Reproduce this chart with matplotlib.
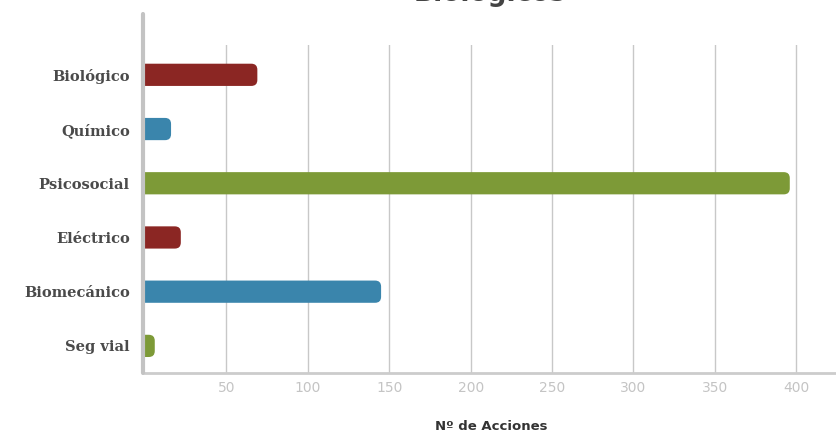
import matplotlib
matplotlib.use("Agg")
import matplotlib.pyplot as plt
from matplotlib.lines import Line2D
from matplotlib.patches import FancyBboxPatch

categories = ["Biológico", "Químico", "Psicosocial", "Eléctrico", "Biomecánico", "Seg vial"]
values = [69, 16, 396, 22, 145, 6]
bar_colors = ["#8B2623", "#3A85AC", "#7D9A37", "#8B2623", "#3A85AC", "#7D9A37"]
xticks = [50, 100, 150, 200, 250, 300, 350, 400]
title_text = "Biológicos"
xlabel_text = "Nº de Acciones"

fig = plt.figure(figsize=(8.37, 4.38), dpi=100)
ax = fig.add_axes([145/837, (438-373)/438, (837-145)/837, (373-45)/438])

xmax = 425
ymin, ymax = 5.5, -0.55
ax.set_xlim(0, xmax)
ax.set_ylim(ymin, ymax)

bar_h = 0.41
ypos = list(range(len(categories)))
ax_w_px = 837 - 145
ax_h_px = 373 - 45
xu = ax_w_px / xmax
yu = ax_h_px / abs(ymin - ymax)
r_px = 6
r_x = r_px / xu
aspect = (r_px / yu) / r_x
for y, v, c in zip(ypos, values, bar_colors):
    p = FancyBboxPatch((-3 * r_x, y - bar_h / 2), v + 3 * r_x, bar_h,
                       boxstyle=f"round,pad=0,rounding_size={r_x}",
                       mutation_aspect=aspect, facecolor=c, edgecolor="none",
                       zorder=3)
    ax.add_patch(p)

ax.set_yticks(ypos)
ax.set_yticklabels(categories, fontfamily="DejaVu Serif", fontweight="bold",
                   fontsize=10.5, color="#4a4a4a")
ax.set_xticks(xticks)
ax.set_xticklabels([str(t) for t in xticks], fontsize=10, color="#c4c4c4")
ax.tick_params(axis="y", length=0, pad=11)
ax.tick_params(axis="x", length=0, pad=6)

ax.grid(axis="x", color="#c8c8c8", linewidth=1.0, zorder=0)
for s in ["top", "right"]:
    ax.spines[s].set_visible(False)
ax.spines["bottom"].set_color("#cccccc")
ax.spines["bottom"].set_linewidth(2)
ax.spines["left"].set_visible(False)
fig.add_artist(Line2D([143/837, 143/837], [(438-373)/438, (438-14)/438],
                      color="#c3c3c3", linewidth=3, solid_capstyle="round"))

ax.set_xlabel(xlabel_text, fontsize=9.5, fontweight="bold", color="#333333", labelpad=18)
fig.text(490/837, 0.9975, title_text, ha="center", va="baseline",
         fontsize=19, fontweight="bold", color="#444444")

fig.savefig("out.png", dpi=100)
